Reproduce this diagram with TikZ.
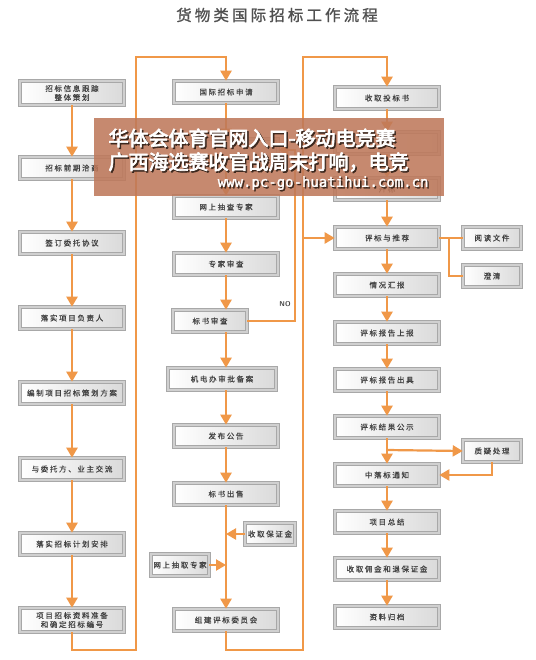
\documentclass[tikz,border=0pt]{standalone}
\usepackage{fontspec}
\usetikzlibrary{arrows.meta,calc}
\newfontfamily\cjk[LetterSpace=22,FakeBold=0.6]{Noto Sans CJK SC}
\newfontfamily\cjktitle[LetterSpace=20,FakeBold=1.2]{Noto Sans CJK SC}
\newfontfamily\cjkheavy[FakeBold=3.5]{Noto Sans CJK SC}
\newfontfamily\webfont[FakeBold=1.5]{DejaVu Sans Mono}
\newcommand\boxfont{\cjk\fontsize{7.5}{9}\selectfont}
\definecolor{arroworange}{RGB}{240,152,72}
\definecolor{boxrim}{RGB}{208,208,208}
\definecolor{boxline}{RGB}{168,168,168}
\definecolor{boxshade}{RGB}{218,218,218}
\definecolor{boxtext}{RGB}{65,65,65}
\definecolor{titlegray}{RGB}{80,80,80}
\definecolor{stamp}{RGB}{190,120,90}
\definecolor{stampshadow}{RGB}{60,40,30}

\begin{document}
\begin{tikzpicture}[
    x=1pt, y=-1pt,
    box/.style={draw=boxline, line width=0.6pt, double=boxrim, double distance=2pt,
        left color=white, right color=boxshade, minimum width=104pt, minimum height=22pt,
        inner sep=1pt, font=\boxfont, text=boxtext, align=center},
    side box/.style={box, minimum width=58pt},
    flow/.style={draw=arroworange, line width=2.2pt, -{Triangle[width=11pt,length=10pt]}},
    link/.style={draw=arroworange, line width=2.2pt},
    stamp text/.style={font=\cjkheavy\fontsize{20}{22}\selectfont, anchor=west}
]

% Canvas
\useasboundingbox (0,0) rectangle (535,660);
\fill[white] (0,0) rectangle (535,660);

% Title
\node[font=\cjktitle\fontsize{15.5}{18}\selectfont, text=titlegray] (title) at (277,15) {货物类国际招标工作流程};

% === Left column ===
\node[box, minimum height=24pt] (L1) at (72,93) {招标信息跟踪\\整体策划};
\node[box] (L2) at (72,168) {招标前期洽商};
\node[box] (L3) at (72,243) {签订委托协议};
\node[box] (L4) at (72,318) {落实项目负责人};
\node[box] (L5) at (72,393) {编制项目招标策划方案};
\node[box] (L6) at (72,469) {与委托方、业主交流};
\node[box] (L7) at (72,544) {落实招标计划安排};
\node[box, minimum height=24pt] (L8) at (72,620) {项目招标资料准备\\和确定招标编号};

\foreach \a/\b in {L1/L2,L2/L3,L3/L4,L4/L5,L5/L6,L6/L7,L7/L8}
    \draw[flow] (\a.south) -- (\b.north);

% === Middle column ===
\node[box] (M1) at (226,92) {国际招标申请};
\node[box] (M2) at (226,150) {};
\node[box] (M3) at (226,207) {网上抽查专家};
\node[box] (M4) at (226,264) {专家审查};
\node[box, minimum width=74pt] (M5) at (210,321) {标书审查};
\node[box, minimum width=108pt] (M6) at (222,379) {机电办审批备案};
\node[box] (M7) at (226,436) {发布公告};
\node[box] (M8) at (226,494) {标书出售};
\node[box] (M9) at (226,620) {组建评标委员会};
\node[side box, minimum width=50pt] (S1) at (270,534) {收取保证金};
\node[side box] (S2) at (180,565) {网上抽取专家};

\foreach \a/\b in {M1/M2,M2/M3,M3/M4}
    \draw[flow] (\a.south) -- (\b.north);
\draw[flow] (M4.south) -- (M4.south |- M5.north);
\draw[flow] (M4.south |- M5.south) -- (M4.south |- M6.north);
\draw[flow] (M4.south |- M6.south) -- (M7.north);
\draw[flow] (M7.south) -- (M8.north);
\draw[flow] (M8.south) -- (M9.north);
\draw[flow] (S1.west) -- (S1.west -| M8.south);
\draw[flow] (S2.east) -- (S2.east -| M8.south);

% back loop: NO
\coordinate (noturn) at (295,150);
\draw[flow] (M5.east) -| (noturn) -- (M2.east);
\node[font=\sffamily\bfseries\fontsize{7}{8}\selectfont, text=boxtext] (nolabel) at (285,304) {NO};

% === Right column ===
\node[box] (R1) at (387,98) {收取投标书};
\node[box] (R2) at (387,143) {};
\node[box] (R3) at (387,189) {开标};
\node[box] (R4) at (387,238) {评标与推荐};
\node[box] (R5) at (387,285) {情况汇报};
\node[box] (R6) at (387,333) {评标报告上报};
\node[box] (R7) at (387,380) {评标报告出具};
\node[box] (R8) at (387,427) {评标结果公示};
\node[box] (R9) at (387,475) {中落标通知};
\node[box] (R10) at (387,522) {项目总结};
\node[box] (R11) at (387,569) {收取佣金和退保证金};
\node[box] (R12) at (387,617) {资料归档};
\node[side box] (T1) at (492,238) {阅读文件};
\node[side box] (T2) at (492,276) {澄清};
\node[side box] (T3) at (492,451) {质疑处理};

\foreach \a/\b in {R1/R2,R2/R3,R3/R4,R4/R5,R5/R6,R6/R7,R7/R8,R8/R9,R9/R10,R10/R11,R11/R12}
    \draw[flow] (\a.south) -- (\b.north);

% side branches
\coordinate (fork) at (449,238);
\draw[link] (R4.east) -- (R4.east -| T1.west);
\draw[link] (fork) |- (T2.west);
\coordinate (dispute) at (387,450);
\draw[flow] (dispute) -- (T3.west);
\draw[flow] (T3.south) |- (R9.east);

% === Connecting loops between columns ===
\coordinate (loopA) at (136,650);
\coordinate (topA) at (136,57);
\draw[flow] (L8.south) |- (loopA) -- (topA) -| (M1.north);
\coordinate (loopB) at (303,650);
\coordinate (topB) at (303,57);
\draw[flow] (M9.south) |- (loopB) -- (topB) -| (R1.north);
\draw[flow] (topB |- R4.west) -- (R4.west);

% Watermark overlay
\fill[stamp, opacity=0.87] (94,118) rectangle (444,196);
\node[stamp text, text=stampshadow] (wm1s) at (106.5,139.5) {华体会体育官网入口-移动电竞赛};
\node[stamp text, text=white] (wm1) at (105,138) {华体会体育官网入口-移动电竞赛};
\node[stamp text, text=stampshadow] (wm2s) at (106.5,163.5) {广西海选赛收官战周末打响，电竞};
\node[stamp text, text=white] (wm2) at (105,162) {广西海选赛收官战周末打响，电竞};
\node[font=\webfont\fontsize{14}{16}\selectfont, text=stampshadow, anchor=east] (wm3s) at (433.5,184.5) {www.pc-go-huatihui.com.cn};
\node[font=\webfont\fontsize{14}{16}\selectfont, text=white, anchor=east] (wm3) at (432,183) {www.pc-go-huatihui.com.cn};

\end{tikzpicture}
\end{document}
